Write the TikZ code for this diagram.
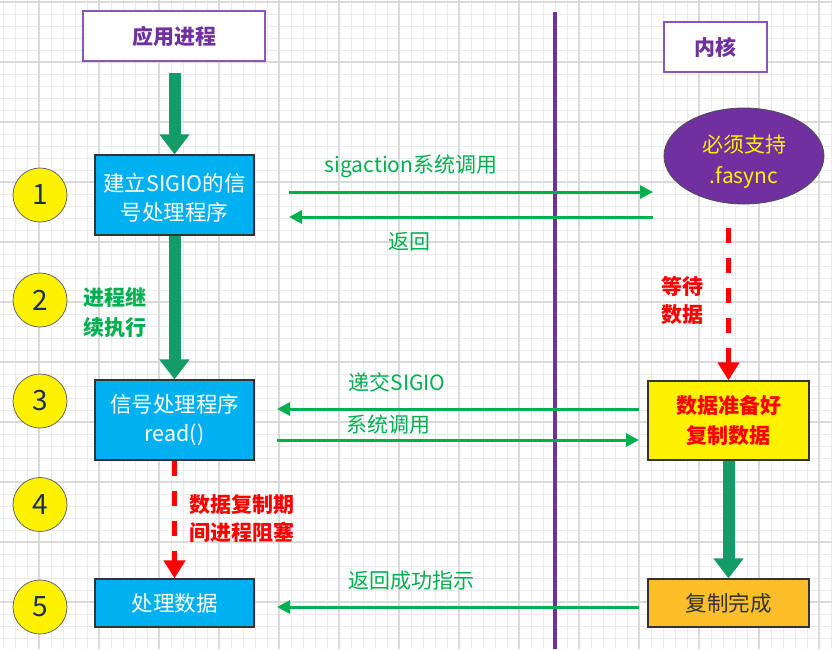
\documentclass[tikz,border=0pt]{standalone}
\usepackage{fontspec}
\setmainfont{Noto Sans CJK SC}
\usetikzlibrary{arrows.meta,shapes.geometric}
\definecolor{gridminor}{HTML}{EBEBEB}
\definecolor{gridmajor}{HTML}{DADADA}
\definecolor{purp}{HTML}{7030A0}
\definecolor{purpborder}{HTML}{8A56B8}
\definecolor{bigg}{HTML}{149C68}
\definecolor{msgg}{HTML}{00B050}
\definecolor{boxblue}{HTML}{00B0F0}
\definecolor{navy}{HTML}{1F2D5A}
\definecolor{orangebox}{HTML}{FCBF2A}
\tikzset{
  titlebox/.style={draw=purpborder, line width=1.3pt, fill=white, minimum height=50pt, text=purp, font=\fontsize{21}{24}\selectfont\bfseries},
  bluebox/.style={draw=black!80, line width=1.2pt, fill=boxblue, text=white, minimum width=159pt, align=center, font=\fontsize{21.5}{29}\selectfont},
  numcirc/.style={circle, draw=black!60, line width=0.8pt, fill=yellow, minimum size=54pt, inner sep=0pt, text=navy, font=\fontsize{28}{30}\selectfont},
  bigarrow/.style={draw=bigg, line width=12pt, -{Triangle[width=29pt,length=20pt]}},
  reddash/.style={draw=red, line width=5pt, dash pattern=on 15pt off 15pt, -{Triangle[width=21pt,length=18pt]}},
  msg/.style={draw=msgg, line width=3pt, -{Triangle[width=13pt,length=13pt]}},
  msglabel/.style={text=msgg, font=\fontsize{21}{24}\selectfont},
  redlabel/.style={text=red, align=left, font=\fontsize{21}{28}\selectfont\bfseries},
}
\begin{document}
\begin{tikzpicture}[x=1pt,y=-1pt]
\useasboundingbox (0,0) rectangle (832,649);
\fill[white] (0,0) rectangle (832,649);
% grid
\foreach \i in {0,...,69} {
  \draw[gridminor, line width=1pt] (3+12*\i,0) -- (3+12*\i,649);
}
\foreach \j in {0,...,54} {
  \draw[gridminor, line width=1pt] (0,2+12*\j) -- (832,2+12*\j);
}
\foreach \i in {0,...,13} {
  \draw[gridmajor, line width=1.2pt] (39+60*\i,0) -- (39+60*\i,649);
}
\foreach \j in {0,...,10} {
  \draw[gridmajor, line width=1.2pt] (0,2+60*\j) -- (832,2+60*\j);
}
% divider
\draw[purp, line width=4pt] (555,12) -- (555,649);

% titles
\node[titlebox, minimum width=182pt] (t1) at (174,36) {应用进程};
\node[titlebox, minimum width=103pt] (t2) at (715.5,47) {内核};

% left column boxes
\node[bluebox, minimum height=80pt] (b1) at (174.5,195) {\rule{0pt}{24pt}建立SIGIO的信\\号处理程序};
\node[bluebox, minimum height=80pt] (b3) at (174.5,420) {信号处理程序\\read()};
\node[bluebox, minimum height=48pt] (b5) at (174.5,603) {处理数据};

% kernel side
\node[ellipse, draw=black!70, line width=0.8pt, fill=purp, minimum width=160pt, minimum height=96pt, inner sep=0pt, text=yellow, align=center, font=\fontsize{21}{31}\selectfont] (el) at (744,156) {\rule{0pt}{29pt}必须支持\\.fasync};
\node[draw=black!80, line width=1.2pt, fill=yellow, minimum width=161pt, minimum height=79pt, text=red, align=center, font=\fontsize{21}{30}\selectfont\bfseries] (yb) at (728.5,420.5) {数据准备好\\复制数据};
\node[draw=black!80, line width=1.2pt, fill=orangebox, minimum width=161pt, minimum height=48pt, text=black!80, font=\fontsize{21.5}{24}\selectfont] (ob) at (728.5,603) {复制完成};

% circles
\node[numcirc] (c1) at (40,195) {1};
\node[numcirc] (c2) at (40,300) {2};
\node[numcirc] (c3) at (40,401) {3};
\node[numcirc] (c4) at (40,504.5) {4};
\node[numcirc] (c5) at (40,607) {5};

% big arrows
\draw[bigarrow, shorten <=11pt] (t1.south -| b1.north) -- (b1.north);
\draw[bigarrow] (b1.south) -- (b3.north);
\draw[bigarrow] (yb.south) -- (ob.north);

% red dashed arrows
\draw[reddash] (b3.south) -- (b5.north);
\draw[reddash, shorten <=24pt] (el.south -| yb.north) -- (yb.north);

% message arrows
\coordinate (m1s) at (289,192); \coordinate (m1e) at (653,192);
\coordinate (m2s) at (653,217); \coordinate (m2e) at (289,217);
\coordinate (m3s) at (639,409); \coordinate (m3e) at (277,409);
\coordinate (m4s) at (277,440); \coordinate (m4e) at (639,440);
\coordinate (m5s) at (639,607); \coordinate (m5e) at (277,607);
\draw[msg] (m1s) -- (m1e);
\draw[msg] (m2s) -- (m2e);
\draw[msg] (m3s) -- (m3e);
\draw[msg] (m4s) -- (m4e);
\draw[msg] (m5s) -- (m5e);

% labels
\node[msglabel] (l1) at (411,166) {sigaction系统调用};
\node[msglabel] (l2) at (409,242) {返回};
\node[msglabel] (l3) at (397,382) {递交SIGIO};
\node[msglabel] (l4) at (388,425) {系统调用};
\node[msglabel] (l5) at (411,581) {返回成功指示};

\node[text=msgg, align=left, font=\fontsize{21}{30}\selectfont\bfseries] (g1) at (115,312) {进程继\\续执行};
\node[redlabel] (r1) at (242,519) {数据复制期\\间进程阻塞};
\node[redlabel] (r2) at (682,300) {等待\\数据};
\end{tikzpicture}
\end{document}
